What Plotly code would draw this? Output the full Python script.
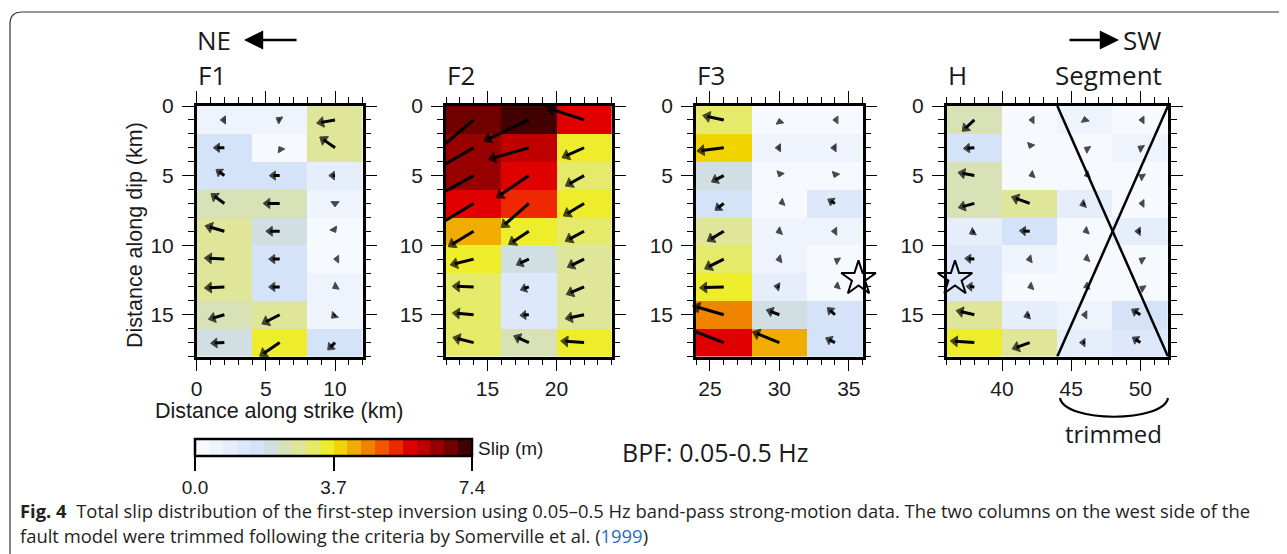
import math
import plotly.graph_objects as go

# ---------------- data ----------------
dip_edges = [0, 2, 4, 6, 8, 10, 12, 14, 16, 18]
f1_strike = [0, 4, 8, 12]
f2_strike = [12, 16, 20, 24]
f3_strike = [24, 28, 32, 36]
h_strike = [36, 40, 44, 48, 52]

# total slip (m) per subfault, rows = dip 0-2, 2-4, ... 16-18 km
f1_slip = [
    [0.6, 0.6, 2.7],
    [1.6, 0.2, 2.7],
    [1.5, 1.5, 0.9],
    [2.4, 2.4, 0.5],
    [2.9, 2.0, 0.2],
    [2.9, 1.6, 0.2],
    [2.9, 1.6, 0.4],
    [2.4, 2.9, 0.7],
    [2.0, 3.5, 1.5],
]
f2_slip = [
    [6.8, 7.2, 5.7],
    [6.6, 6.1, 3.5],
    [6.4, 5.7, 3.1],
    [5.7, 5.3, 3.5],
    [4.3, 3.5, 3.1],
    [3.5, 2.0, 2.7],
    [3.1, 1.3, 2.8],
    [3.1, 1.3, 2.8],
    [3.1, 2.4, 3.4],
]
f3_slip = [
    [3.1, 0.2, 0.3],
    [3.9, 0.6, 0.6],
    [2.0, 0.2, 0.3],
    [1.6, 0.05, 1.2],
    [2.8, 0.5, 0.5],
    [3.1, 0.5, 0.1],
    [3.5, 0.8, 0.1],
    [4.7, 2.0, 1.5],
    [5.7, 4.2, 1.5],
]
h_slip = [
    [2.4, 0.1, 0.5, 0.2],
    [1.6, 0.1, 0.1, 0.4],
    [2.4, 0.1, 0.1, 0.2],
    [2.4, 2.8, 0.8, 0.2],
    [0.8, 1.5, 0.3, 0.8],
    [1.4, 0.5, 0.2, 0.2],
    [1.2, 0.3, 0.2, 0.1],
    [2.7, 0.9, 0.5, 1.5],
    [3.5, 2.7, 0.8, 1.4],
]

# slip direction on the fault plane (deg, 0 = along +strike, 90 = up-dip)
f1_rake = [
    [180, 150, 190],
    [180, 120, 145],
    [144, 180, 180],
    [144, 180, 270],
    [164, 180, 300],
    [177, 180, 180],
    [183, 180, 210],
    [196, 207, 225],
    [183, 214, 225],
]
f2_rake = [
    [220, 205, 162],
    [210, 196, 204],
    [209, 214, 209],
    [211, 221, 211],
    [211, 213, 208],
    [194, 205, 206],
    [178, 200, 203],
    [175, 184, 192],
    [166, 156, 176],
]
f3_rake = [
    [168, 100, 180],
    [187, 180, 180],
    [207, 250, 250],
    [218, 200, 149],
    [211, 200, 180],
    [207, 190, 150],
    [182, 170, 200],
    [164, 159, 137],
    [159, 158, 153],
]
h_rake = [
    [223, 180, 100, 180],
    [184, 250, 150, 150],
    [169, 200, 200, 150],
    [195, 160, 200, 180],
    [209, 177, 200, 180],
    [176, 190, 200, 150],
    [176, 200, 200, 150],
    [167, 200, 180, 148],
    [176, 200, 180, 146],
]

hypo_f3 = (35.7, 12.4)
hypo_h = (36.6, 12.4)
trimmed_strike = [44, 52]

slip_max = 7.4
cbar_tickvals = [0.0, 3.7, 7.4]
cbar_ticktext = ["0.0", "3.7", "7.4"]
block_colors = [
    "#f6f9fe", "#eef3fc", "#e6eefb", "#dde8fa", "#d5e3f8",
    "#d2dfe2", "#d8e2b6", "#dfe699", "#e6ea6a", "#eded2c",
    "#f2d400", "#f0ac00", "#f08400", "#ef5800", "#ee2800",
    "#e00000", "#c00000", "#980000", "#700000", "#420000",
]

# ---------------- layout helpers ----------------
W, H = 1287, 554
OFF = 8  # page body margin of the html page
def px(x):
    return (x - OFF) / W
def py(y):
    return 1 - (y - OFF) / H

ARROW_SCALE = 0.5    # km of arrow per m of slip
PX_PER_KM = 13.85    # approx. screen scale of the panels

n = len(block_colors)
colorscale = []
for i, c in enumerate(block_colors):
    colorscale.append([i / n, c])
    colorscale.append([(i + 1) / n, c])

panels = [
    ("F1", f1_strike, f1_slip, f1_rake, (196.7, 362.7)),
    ("F2", f2_strike, f2_slip, f2_rake, (446.0, 611.7)),
    ("F3", f3_strike, f3_slip, f3_rake, (696.0, 862.7)),
    ("H", h_strike, h_slip, h_rake, (946.7, 1168.0)),
]
ydom = (py(356.5), py(106.0))

fig = go.Figure()
annotations = []
tickfont = dict(family="Liberation Sans, Arial", size=21, color="#1a1a1a")

for k, (name, strike, slip, rake, dom) in enumerate(panels):
    sfx = "" if k == 0 else str(k + 1)
    xa, ya = "x" + sfx, "y" + sfx
    fig.add_trace(go.Heatmap(
        x=strike, y=dip_edges, z=slip, coloraxis="coloraxis",
        xaxis=xa, yaxis=ya, hoverinfo="skip"))
    axis_common = dict(
        showline=True, linecolor="black", linewidth=2.5, mirror="allticks",
        ticks="outside", ticklen=12, tickwidth=1.4, tickcolor="black",
        showgrid=False, zeroline=False, tickfont=tickfont, dtick=5, tick0=0,
        minor=dict(dtick=1, tick0=0, ticks="outside", ticklen=6,
                   tickwidth=1.2, tickcolor="black", showgrid=False),
    )
    fig.layout["xaxis" + sfx] = dict(
        domain=[px(dom[0]), px(dom[1])], range=[strike[0], strike[-1]],
        anchor=ya, **axis_common)
    fig.layout["yaxis" + sfx] = dict(
        domain=list(ydom), range=[dip_edges[-1], dip_edges[0]],
        anchor=xa, ticklabelstandoff=4, **axis_common)

    # slip vectors: shafts (lines) + heads (rotated triangle markers)
    sx, sy, mx, my, ang_l, size_l = [], [], [], [], [], []
    for r in range(len(dip_edges) - 1):
        cy = (dip_edges[r] + dip_edges[r + 1]) / 2
        for c in range(len(strike) - 1):
            cx = (strike[c] + strike[c + 1]) / 2
            s = slip[r][c]
            L = s * ARROW_SCALE
            th = math.radians(rake[r][c])
            ux, uy = math.cos(th), -math.sin(th)
            tipx = cx + L * ux
            tipy = cy + L * uy
            size = 6.5 + 3.0 * min(1.0, s / 3.0)
            back = 0.5 * size / PX_PER_KM          # tip -> triangle centre
            ctrx, ctry = tipx - back * ux, tipy - back * uy
            mx.append(ctrx)
            my.append(ctry)
            ang_l.append(90 - rake[r][c])
            size_l.append(size)
            if L > back:
                sx += [cx, ctrx, None]
                sy += [cy, ctry, None]
    fig.add_trace(go.Scatter(
        x=sx, y=sy, mode="lines", xaxis=xa, yaxis=ya, cliponaxis=False,
        line=dict(color="black", width=3.0), hoverinfo="skip"))
    fig.add_trace(go.Scatter(
        x=mx, y=my, mode="markers", xaxis=xa, yaxis=ya, cliponaxis=False,
        marker=dict(symbol="triangle-up", angle=ang_l, size=size_l, color="black",
                    line=dict(width=1.0, color="black")),
        hoverinfo="skip"))

# hypocentre stars
for (hx, hy), xa, ya in [(hypo_f3, "x3", "y3"), (hypo_h, "x4", "y4")]:
    fig.add_trace(go.Scatter(x=[hx], y=[hy], mode="markers",
                             xaxis=xa, yaxis=ya, cliponaxis=False,
                             marker=dict(symbol="star-open", size=26, color="black",
                                         line=dict(width=2, color="black")),
                             hoverinfo="skip"))

shapes = [
    dict(type="line", xref="x4", yref="y4", x0=trimmed_strike[0], y0=dip_edges[0],
         x1=trimmed_strike[1], y1=dip_edges[-1], line=dict(color="black", width=2.5)),
    dict(type="line", xref="x4", yref="y4", x0=trimmed_strike[1], y0=dip_edges[0],
         x1=trimmed_strike[0], y1=dip_edges[-1], line=dict(color="black", width=2.5)),
    dict(type="path", xref="paper", yref="paper",
         path=f"M {px(1060)},{py(398)} C {px(1065)},{py(423)} {px(1163)},{py(423)} {px(1168)},{py(398)}",
         line=dict(color="black", width=2.2)),
    dict(type="path", xref="paper", yref="paper",
         path=f"M {px(1300)},{py(12)} L {px(22)},{py(12)} Q {px(10)},{py(12)} {px(10)},{py(24)} L {px(10)},{py(570)}",
         line=dict(color="#333333", width=1.2)),
]

label_font = dict(family="Open Sans", size=26, color="#1a1a1a")
def txt(x, y, s, font, xanchor="left", **kw):
    d = dict(x=px(x), y=py(y), xref="paper", yref="paper", text=s,
             showarrow=False, xanchor=xanchor, yanchor="middle", font=font)
    d.update(kw)
    annotations.append(d)

txt(195, 40, "NE", label_font)
annotations.append(dict(x=px(244), y=py(40), xref="paper", yref="paper", ax=54, ay=0,
                        text="", showarrow=True, arrowhead=2, arrowsize=1.6,
                        arrowwidth=2.4, arrowcolor="black"))
txt(1121, 40, "SW", label_font)
annotations.append(dict(x=px(1119), y=py(40), xref="paper", yref="paper", ax=-51, ay=0,
                        text="", showarrow=True, arrowhead=2, arrowsize=1.6,
                        arrowwidth=2.4, arrowcolor="black"))
for (name, strike, slip, rake, dom) in panels:
    txt(dom[0] - 1, 75, name, label_font)
txt(1108, 75, "Segment", label_font, xanchor="center")

axis_title_font = dict(family="Liberation Sans, Arial", size=21.5, color="#1a1a1a")
txt(279, 411, "Distance along strike (km)", axis_title_font, xanchor="center")
txt(135, 235, "Distance along dip (km)", axis_title_font, xanchor="center", textangle=-90)

txt(476, 448, "Slip (m)", dict(family="Liberation Sans, Arial", size=19, color="#1a1a1a"))
txt(620, 452, "BPF: 0.05-0.5 Hz", dict(family="Open Sans", size=25, color="#1a1a1a"))
txt(1113, 433, "trimmed", dict(family="Open Sans", size=24, color="#1a1a1a"), xanchor="center")

cap_font = dict(family="Open Sans", size=18.4, color="#231f20")
txt(18, 510, "<b>Fig. 4</b>  Total slip distribution of the first-step inversion using 0.05–0.5 Hz "
             "band-pass strong-motion data. The two columns on the west side of the", cap_font)
txt(18, 535, "fault model were trimmed following the criteria by Somerville et al. "
             "(<span style='color:#2a6ebb'>1999</span>)", cap_font)

fig.update_layout(
    width=W, height=H, margin=dict(l=0, r=0, t=0, b=0, autoexpand=False),
    paper_bgcolor="white", plot_bgcolor="white", showlegend=False,
    annotations=annotations, shapes=shapes,
    coloraxis=dict(
        colorscale=colorscale, cmin=0, cmax=slip_max,
        colorbar=dict(
            orientation="h", x=px(195), xanchor="left", y=py(439), yanchor="top",
            len=277, lenmode="pixels", thickness=17, outlinewidth=2.5,
            outlinecolor="black", xpad=0, ypad=0, borderwidth=0,
            tickvals=cbar_tickvals, ticktext=cbar_ticktext, ticks="outside",
            ticklen=14, tickwidth=1.5, tickcolor="black",
            tickfont=dict(family="Liberation Sans, Arial", size=19, color="#1a1a1a"),
        ),
    ),
)

fig.write_html("out.html")
